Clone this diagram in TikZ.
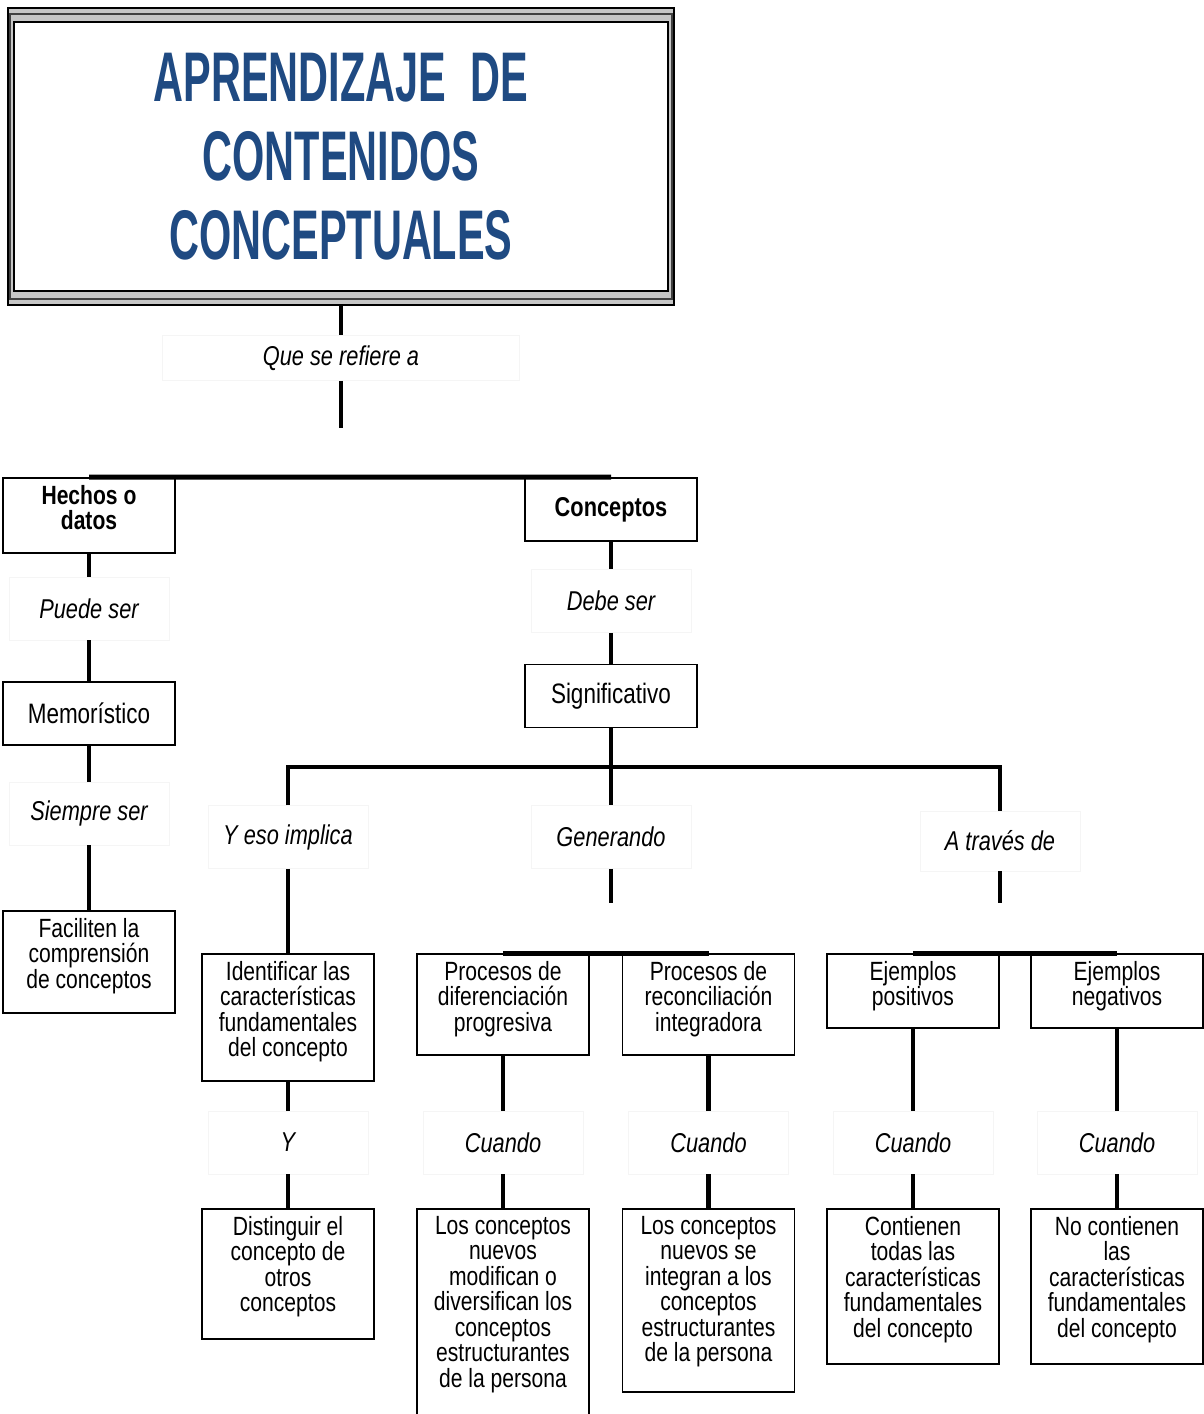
\documentclass[tikz,border=0pt]{standalone}
\usepackage{fontspec}
\setmainfont[FakeStretch=0.8]{Liberation Sans}
\newfontfamily\titlefont[FakeStretch=0.59]{Liberation Sans}
\usepackage{tikz}
\usetikzlibrary{positioning}
\definecolor{azultitulo}{HTML}{1F4A82}

\newcommand{\arriba}[2]{\parbox[c][#1][t]{3.44cm}{\centering\vspace*{4pt}#2}}

\tikzset{
  marco/.style={draw, fill=gray!45, line width=1.6pt, minimum width=13.32cm, minimum height=5.94cm},
  titulotexto/.style={font=\titlefont\bfseries\fontsize{40}{45}\selectfont, text=azultitulo, align=center},
  caja/.style={draw, line width=1.1pt, inner sep=0pt, font=\fontsize{15}{14.5}\selectfont},
  cajac/.style={draw, line width=1.1pt, minimum width=3.44cm, minimum height=1.26cm, inner sep=0pt, font=\fontsize{16}{16}\selectfont},
  etiqueta/.style={draw=black!4, line width=0.4pt, minimum width=3.2cm, minimum height=1.26cm, inner sep=0pt, font=\itshape\fontsize{15.5}{16}\selectfont},
  conector/.style={line width=2.3pt},
  barra/.style={line width=2.8pt}
}

\begin{document}
\begin{tikzpicture}[x=0.02cm, y=-0.02cm]
\useasboundingbox (0,0) rectangle (1204,1414);

\node[marco] (titulo) at (341,156.5) {};
\draw[black!75, line width=0.8pt] ([shift={(0.07cm,-0.15cm)}]titulo.north west) rectangle ([shift={(-0.07cm,0.15cm)}]titulo.south east);
\draw[fill=white, line width=1.2pt] ([shift={(0.14cm,-0.3cm)}]titulo.north west) rectangle ([shift={(-0.14cm,0.3cm)}]titulo.south east);
\node[titulotexto] (titulotxt) at (titulo) {APRENDIZAJE\hspace{0.35em}DE\\CONTENIDOS\\CONCEPTUALES};

\node[etiqueta, minimum width=7.14cm, minimum height=0.9cm] (refiere) at (341,358) {Que se refiere a};
\coordinate (c1) at (341,428);

\node[caja] (hechos) at (89,515.5) {\arriba{1.5cm}{\bfseries Hechos o\\datos}};
\node[cajac, font=\bfseries\fontsize{15.5}{16}\selectfont] (conceptos) at (611,509.5) {Conceptos};

\node[etiqueta] (puede) at (89,608.5) {Puede ser};
\node[cajac] (memo) at (89,713.5) {Memorístico};
\node[etiqueta] (siempre) at (89,813.5) {Siempre ser};
\node[caja] (faciliten) at (89,962) {\arriba{2.04cm}{Faciliten la\\comprensión\\de conceptos}};

\node[etiqueta] (debe) at (611,601) {Debe ser};
\node[cajac] (signif) at (611,696) {Significativo};
\coordinate (r2) at (611,767);

\node[etiqueta] (implica) at (288,837) {Y eso implica};
\node[etiqueta] (generando) at (611,837) {Generando};
\node[etiqueta, minimum height=1.2cm] (traves) at (1000,841) {A través de};
\coordinate (c2) at (611,903);
\coordinate (c3) at (1000,903);

\node[caja] (identificar) at (288,1017.5) {\arriba{2.54cm}{Identificar las\\características\\fundamentales\\del concepto}};
\node[caja] (pdif) at (503,1004.5) {\arriba{2.02cm}{Procesos de\\diferenciación\\progresiva}};
\node[caja] (prec) at (708.5,1004.5) {\arriba{2.02cm}{Procesos de\\reconciliación\\integradora}};
\node[caja] (epos) at (913,991) {\arriba{1.48cm}{Ejemplos\\positivos}};
\node[caja] (eneg) at (1117,991) {\arriba{1.48cm}{Ejemplos\\negativos}};

\node[etiqueta] (yy) at (288,1142.5) {Y};
\node[etiqueta] (cuando1) at (503,1142.5) {Cuando};
\node[etiqueta] (cuando2) at (708.5,1142.5) {Cuando};
\node[etiqueta] (cuando3) at (913,1142.5) {Cuando};
\node[etiqueta] (cuando4) at (1117,1142.5) {Cuando};

\node[caja] (distinguir) at (288,1274) {\arriba{2.6cm}{Distinguir el\\concepto de\\otros\\conceptos}};
\node[caja] (lc1) at (503,1314.5) {\arriba{4.22cm}{Los conceptos\\nuevos\\modifican o\\diversifican los\\conceptos\\estructurantes\\de la persona}};
\node[caja] (lc2) at (708.5,1300.5) {\arriba{3.66cm}{Los conceptos\\nuevos se\\integran a los\\conceptos\\estructurantes\\de la persona}};
\node[caja] (cont) at (913,1286.5) {\arriba{3.1cm}{Contienen\\todas las\\características\\fundamentales\\del concepto}};
\node[caja] (nocont) at (1117,1286.5) {\arriba{3.1cm}{No contienen\\las\\características\\fundamentales\\del concepto}};

\draw[conector] (titulo.south) -- (refiere.north);
\draw[conector] (refiere.south) -- (c1);
\draw[barra] (hechos.north) -- (conceptos.north);

\draw[conector] (hechos.south) -- (puede.north);
\draw[conector] (puede.south) -- (memo.north);
\draw[conector] (memo.south) -- (siempre.north);
\draw[conector] (siempre.south) -- (faciliten.north);

\draw[conector] (conceptos.south) -- (debe.north);
\draw[conector] (debe.south) -- (signif.north);
\draw[conector] (signif.south) -- (generando.north);
\draw[barra] (implica.north) |- (r2) -| (traves.north);
\draw[conector] (generando.south) -- (c2);
\draw[conector] (traves.south) -- (c3);

\draw[conector] (implica.south) -- (identificar.north);
\draw[conector] (identificar.south) -- (yy.north);
\draw[conector] (yy.south) -- (distinguir.north);

\draw[barra] (pdif.north) -- (prec.north);
\draw[barra] (epos.north) -- (eneg.north);

\draw[conector] (pdif.south) -- (cuando1.north);
\draw[conector] (cuando1.south) -- (lc1.north);
\draw[conector] (prec.south) -- (cuando2.north);
\draw[conector] (cuando2.south) -- (lc2.north);
\draw[conector] (epos.south) -- (cuando3.north);
\draw[conector] (cuando3.south) -- (cont.north);
\draw[conector] (eneg.south) -- (cuando4.north);
\draw[conector] (cuando4.south) -- (nocont.north);
\end{tikzpicture}
\end{document}
